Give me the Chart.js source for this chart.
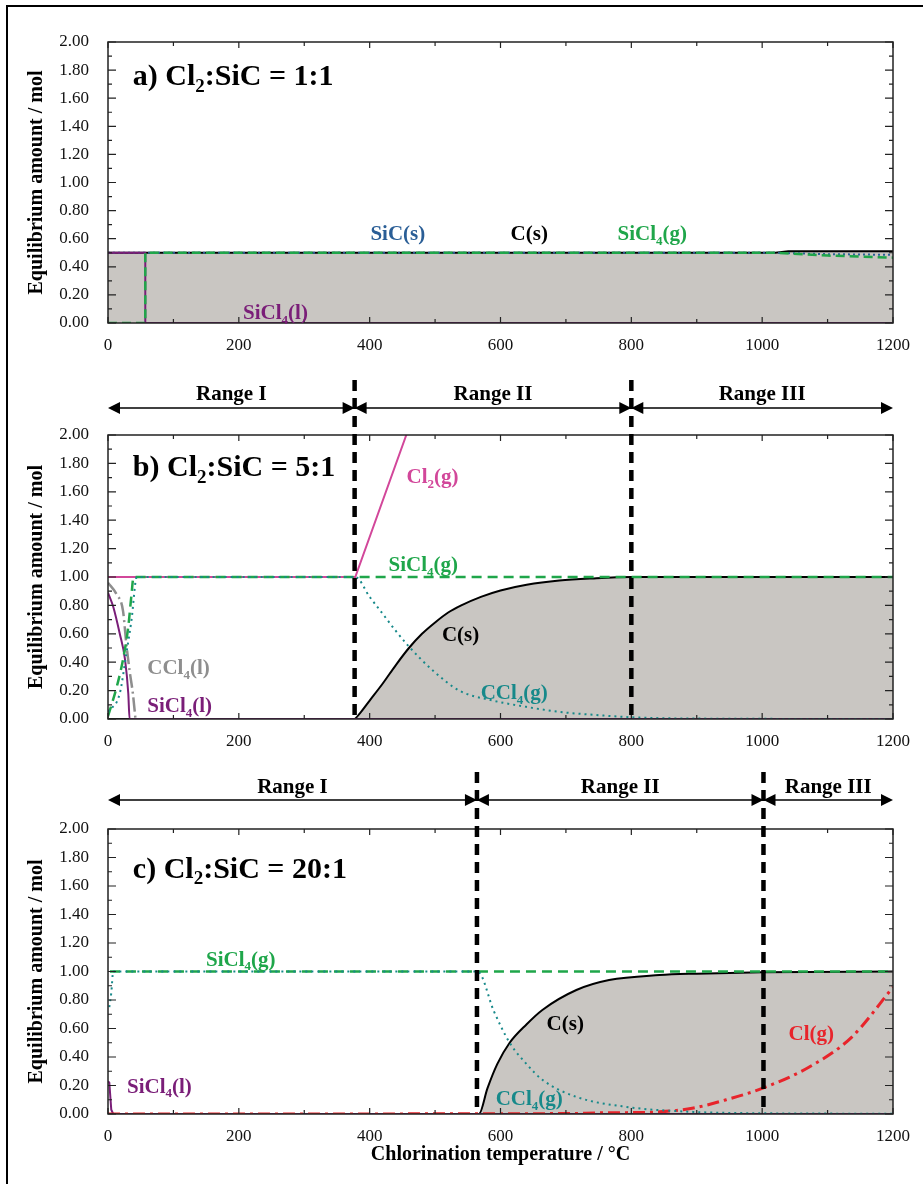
<!DOCTYPE html>
<html>
<head>
<meta charset="utf-8">
<title>Chlorination equilibrium</title>
<script src="https://cdn.jsdelivr.net/npm/chart.js@4.4.1/dist/chart.umd.min.js"></script>
<style>
  html, body { margin: 0; padding: 0; background: #fff; }
  #page { position: relative; width: 923px; height: 1184px; overflow: hidden; }
  #frame { position: absolute; left: 6px; top: 5px; width: 1000px; height: 1300px;
           border-left: 2px solid #000; border-top: 2px solid #000; }
  canvas { position: absolute; left: 0; }
</style>
</head>
<body>
<div id="page">
  <div id="frame"></div>
  <canvas id="chartA" width="923" height="360" style="top:0px"></canvas>
  <canvas id="chartB" width="923" height="410" style="top:345px"></canvas>
  <canvas id="chartC" width="923" height="444" style="top:740px"></canvas>
</div>
<script>
// ====== DATA (temperature °C, amount mol) ======
// a) Cl2:SiC = 1:1
const aSiC    = [[0,0.5],[1020,0.5],[1100,0.49],[1200,0.485]];
const aC      = [[0,0.5],[1020,0.5],[1040,0.51],[1200,0.51]];
const aSiCl4g = [[0,0],[57,0],[57,0.5],[1020,0.5],[1100,0.48],[1200,0.465]];
const aSiCl4l = [[0,0.5],[57,0.5],[57,0],[1200,0]];

// b) Cl2:SiC = 5:1
const bCl2    = [[0,1],[378,1],[456,2],[480,2.3]];
const bSiCl4g = [[0,0.02],[13,0.22],[23,0.42],[31,0.65],[36,0.88],[39,1],[1200,1]];
const bCCl4g  = [[0,0.05],[18,0.18],[28,0.46],[36,0.7],[44,1],[378,1],[400,0.86],[420,0.74],[440,0.62],
                 [460,0.51],[497,0.34],[537,0.2],[588,0.13],[639,0.086],[690,0.05],[741,0.03],[800,0.012],
                 [900,0.003],[1200,0]];
const bCCl4l  = [[0,0.96],[13,0.88],[23,0.76],[28,0.53],[33,0.34],[38,0.18],[42,0]];
const bSiCl4l = [[0,0.89],[8,0.79],[18,0.6],[26,0.42],[31,0.18],[33,0],[1200,0]];
const bC      = [[0,0],[376,0],[385,0.04],[400,0.13],[420,0.25],[440,0.38],[460,0.5],[480,0.6],[500,0.68],
                 [520,0.75],[540,0.8],[570,0.86],[600,0.905],[640,0.945],[690,0.975],[740,0.99],[800,1],[1200,1]];
const bDividers = [377, 800];

// c) Cl2:SiC = 20:1
const cSiCl4g = [[3,1],[1200,1]];
const cCCl4g  = [[2,0.75],[5,0.85],[8,1],[565,1],[590,0.72],[614,0.5],[640,0.35],[664,0.24],[716,0.12],
                 [792,0.05],[893,0.015],[1000,0.005],[1200,0.002]];
const cSiCl4l = [[0,0.23],[2,0.22],[5,0.03],[8,0],[1200,0]];
const cC      = [[0,0],[567,0],[580,0.18],[595,0.35],[614,0.5],[640,0.63],[664,0.73],[716,0.87],
                 [766,0.94],[843,0.975],[900,0.985],[1000,0.995],[1200,1]];
const cCl     = [[0,0],[700,0.003],[750,0.008],[800,0.01],[843,0.015],[893,0.04],[945,0.1],[1000,0.18],
                 [1072,0.33],[1137,0.54],[1200,0.89]];
const cDividers = [564, 1002];

const RANGE_NAMES = ['Range I', 'Range II', 'Range III'];
// ===============================================

const FONT = "'Liberation Serif', 'Times New Roman', Times, serif";
Chart.defaults.font.family = FONT;
Chart.defaults.color = '#111';

const COL = {
  SiC: '#2a5e96', C: '#000000', SiCl4g: '#1fa64a', SiCl4l: '#7a1e78', Cl2: '#d2479a',
  CCl4l: '#8e8e8e', CCl4g: '#17898a', Cl: '#e8242b', fill: '#c9c6c2'
};

function pts(arr) { return arr.map(([x, y]) => ({ x, y })); }

function line(arr, color, dash, width, order, smooth) {
  return {
    data: pts(arr), borderColor: color, borderDash: dash, borderWidth: width,
    pointRadius: 0, fill: false, order: order, tension: 0,
    cubicInterpolationMode: smooth ? 'monotone' : 'default'
  };
}

function area(arr) {
  return {
    data: pts(arr), borderWidth: 0, borderColor: 'rgba(0,0,0,0)', backgroundColor: COL.fill,
    pointRadius: 0, fill: 'origin', order: 100, tension: 0, cubicInterpolationMode: 'monotone'
  };
}

// text with "_4" style subscripts
function drawRich(ctx, text, x, y, size, color, align) {
  const parts = text.split(/(_\d)/).filter(Boolean)
    .map(s => s[0] === '_' ? { t: s.slice(1), sub: true } : { t: s, sub: false });
  const fMain = `bold ${size}px ${FONT}`;
  const fSub = `bold ${Math.round(size * 0.62)}px ${FONT}`;
  let w = 0;
  parts.forEach(p => { ctx.font = p.sub ? fSub : fMain; p.w = ctx.measureText(p.t).width; w += p.w; });
  let cx = align === 'left' ? x : x - w / 2;
  const base = y + size * 0.34;
  ctx.fillStyle = color;
  ctx.textAlign = 'left';
  ctx.textBaseline = 'alphabetic';
  parts.forEach(p => {
    ctx.font = p.sub ? fSub : fMain;
    ctx.fillText(p.t, cx, base + (p.sub ? size * 0.22 : 0));
    cx += p.w;
  });
}

function arrowHead(ctx, tipX, y, dir) {
  ctx.beginPath();
  ctx.moveTo(tipX, y);
  ctx.lineTo(tipX - dir * 12, y - 6);
  ctx.lineTo(tipX - dir * 12, y + 6);
  ctx.closePath();
  ctx.fill();
}

const decor = {
  id: 'decor',
  afterDatasetsDraw(chart, args, o) {
    const { ctx, chartArea: ca, scales: { x, y } } = chart;
    ctx.save();

    // frame
    ctx.strokeStyle = '#222';
    ctx.lineWidth = 1.5;
    ctx.strokeRect(ca.left, ca.top, ca.right - ca.left, ca.bottom - ca.top);

    // inward ticks on all sides
    ctx.lineWidth = 1.2;
    ctx.beginPath();
    x.ticks.forEach(t => {
      const px = x.getPixelForValue(t.value);
      const len = t.label ? 6 : 4;
      ctx.moveTo(px, ca.bottom); ctx.lineTo(px, ca.bottom - len);
      ctx.moveTo(px, ca.top); ctx.lineTo(px, ca.top + len);
    });
    y.ticks.forEach(t => {
      const py = y.getPixelForValue(t.value);
      const len = t.label ? 8 : 4;
      ctx.moveTo(ca.left, py); ctx.lineTo(ca.left + len, py);
      ctx.moveTo(ca.right, py); ctx.lineTo(ca.right - len, py);
    });
    ctx.stroke();

    // range dividers and arrows
    if (o.dividers) {
      const bounds = [x.min, ...o.dividers, x.max];
      ctx.strokeStyle = '#000';
      ctx.lineWidth = 4.5;
      ctx.setLineDash([11, 7]);
      o.dividers.forEach(d => {
        const px = x.getPixelForValue(d);
        ctx.beginPath();
        ctx.moveTo(px, ca.top + o.dividerTop);
        ctx.lineTo(px, ca.bottom);
        ctx.stroke();
      });
      ctx.setLineDash([]);
      ctx.lineWidth = 1.5;
      ctx.fillStyle = '#000';
      const ay = ca.top + o.arrowY;
      for (let i = 0; i < bounds.length - 1; i++) {
        const x0 = x.getPixelForValue(bounds[i]);
        const x1 = x.getPixelForValue(bounds[i + 1]);
        ctx.beginPath();
        ctx.moveTo(x0 + 4, ay); ctx.lineTo(x1 - 4, ay);
        ctx.stroke();
        arrowHead(ctx, x0, ay, -1);
        arrowHead(ctx, x1, ay, 1);
        drawRich(ctx, RANGE_NAMES[i], (x0 + x1) / 2, ca.top + o.rangeLabelY, 21, '#000', 'center');
      }
    }

    // panel title
    drawRich(ctx, o.title.t, x.getPixelForValue(o.title.x), y.getPixelForValue(o.title.y), 30, '#000', 'left');

    // species labels
    o.labels.forEach(l => {
      drawRich(ctx, l.t, x.getPixelForValue(l.x), y.getPixelForValue(l.y), 21, l.c, l.align || 'center');
    });
    ctx.restore();
  }
};

function makeChart(id, datasets, cfg) {
  return new Chart(document.getElementById(id), {
    type: 'line',
    data: { datasets },
    options: {
      responsive: false, animation: false, devicePixelRatio: 1,
      layout: { padding: { top: cfg.padTop, right: 30, left: 0, bottom: 0 } },
      plugins: {
        legend: { display: false }, tooltip: { enabled: false },
        decor: cfg.decor
      },
      scales: {
        x: {
          type: 'linear', min: 0, max: 1200,
          grid: { display: false }, border: { display: false },
          ticks: {
            stepSize: 100, autoSkip: false, maxRotation: 0, padding: 4, color: '#111',
            font: { size: 17 }, callback: v => (v % 200 === 0 ? String(v) : '')
          },
          title: cfg.xTitle
            ? { display: true, text: 'Chlorination temperature / °C', color: '#000',
                font: { size: 20, weight: 'bold' }, padding: { top: 0, bottom: 17 } }
            : { display: false },
          afterFit: s => { s.height = cfg.xHeight; }
        },
        y: {
          type: 'linear', min: 0, max: 2,
          grid: { display: false }, border: { display: false },
          ticks: {
            stepSize: 0.1, autoSkip: false, padding: 11, color: '#111', font: { size: 17 },
            callback: v => (Math.round(v * 10) % 2 === 0 ? v.toFixed(2) : '')
          },
          title: { display: true, text: 'Equilibrium amount / mol', color: '#000',
                   font: { size: 20, weight: 'bold' }, padding: { top: 25, bottom: 0 } },
          afterFit: s => { s.width = 108; }
        }
      }
    },
    plugins: [decor]
  });
}

// a) 1:1
makeChart('chartA', [
  line(aSiCl4g, COL.SiCl4g, [9, 5], 2.5, 1, false),
  line(aSiCl4l, COL.SiCl4l, [], 2, 2, false),
  line(aSiC, COL.SiC, [2, 3], 2, 3, false),
  line(aC, COL.C, [], 2, 4, false),
  area(aC)
], {
  padTop: 42, xHeight: 37, xTitle: false,
  decor: {
    title: { t: 'a) Cl_2:SiC = 1:1', x: 38, y: 1.765 },
    labels: [
      { t: 'SiC(s)', x: 443, y: 0.64, c: COL.SiC },
      { t: 'C(s)', x: 644, y: 0.64, c: COL.C },
      { t: 'SiCl_4(g)', x: 832, y: 0.64, c: COL.SiCl4g },
      { t: 'SiCl_4(l)', x: 256, y: 0.08, c: COL.SiCl4l }
    ]
  }
});

// b) 5:1
makeChart('chartB', [
  line(bCCl4g, COL.CCl4g, [2, 4], 2, 0, true),
  line(bSiCl4g, COL.SiCl4g, [10, 6], 2.5, 1, true),
  line(bCCl4l, COL.CCl4l, [14, 4, 2, 4], 2.5, 2, true),
  line(bSiCl4l, COL.SiCl4l, [], 2, 3, true),
  line(bCl2, COL.Cl2, [], 2, 4, false),
  line(bC, COL.C, [], 2, 5, true),
  area(bC)
], {
  padTop: 90, xHeight: 36, xTitle: false,
  decor: {
    dividers: bDividers, dividerTop: -55, arrowY: -27, rangeLabelY: -42,
    title: { t: 'b) Cl_2:SiC = 5:1', x: 38, y: 1.78 },
    labels: [
      { t: 'Cl_2(g)', x: 496, y: 1.71, c: COL.Cl2 },
      { t: 'SiCl_4(g)', x: 482, y: 1.09, c: COL.SiCl4g },
      { t: 'C(s)', x: 539, y: 0.6, c: COL.C },
      { t: 'CCl_4(l)', x: 60, y: 0.365, c: COL.CCl4l, align: 'left' },
      { t: 'SiCl_4(l)', x: 60, y: 0.1, c: COL.SiCl4l, align: 'left' },
      { t: 'CCl_4(g)', x: 621, y: 0.19, c: COL.CCl4g }
    ]
  }
});

// c) 20:1
makeChart('chartC', [
  line(cCCl4g, COL.CCl4g, [2, 4], 2, 0, true),
  line(cCl, COL.Cl, [12, 5, 3, 5], 3, 1, true),
  line(cSiCl4g, COL.SiCl4g, [10, 6], 2.5, 2, false),
  line(cSiCl4l, COL.SiCl4l, [], 2, 3, false),
  line(cC, COL.C, [], 2, 4, true),
  area(cC)
], {
  padTop: 89, xHeight: 70, xTitle: true,
  decor: {
    dividers: cDividers, dividerTop: -57, arrowY: -29, rangeLabelY: -43,
    title: { t: 'c) Cl_2:SiC = 20:1', x: 38, y: 1.73 },
    labels: [
      { t: 'SiCl_4(g)', x: 203, y: 1.09, c: COL.SiCl4g },
      { t: 'SiCl_4(l)', x: 29, y: 0.2, c: COL.SiCl4l, align: 'left' },
      { t: 'C(s)', x: 699, y: 0.64, c: COL.C },
      { t: 'Cl(g)', x: 1075, y: 0.57, c: COL.Cl },
      { t: 'CCl_4(g)', x: 644, y: 0.11, c: COL.CCl4g }
    ]
  }
});
</script>
</body>
</html>
